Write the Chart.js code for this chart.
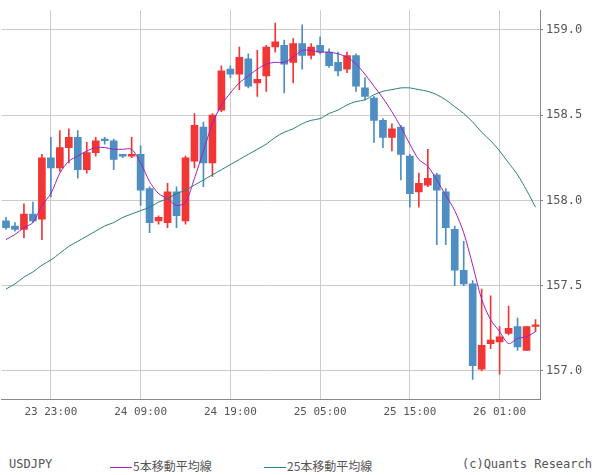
<!DOCTYPE html>
<html>
<head>
<meta charset="utf-8">
<script src="https://cdn.jsdelivr.net/npm/chart.js@4"></script>
<style>
body { margin: 0; background: #fff; font-family: "DejaVu Sans Mono", monospace; }
#wrap { position: relative; width: 600px; height: 475px; }
#box { position: absolute; left: 0; top: 0; width: 600px; height: 425px; }
.foot { position: absolute; top: 457px; font-size: 12px; color: #555; white-space: nowrap; }
.foot i { display: inline-block; width: 22px; height: 1px; vertical-align: middle; margin-right: 1px; }
</style>
</head>
<body>
<div id="wrap">
  <div id="box"><canvas id="chart" width="600" height="425"></canvas></div>
  <div class="foot" style="left:9px">USDJPY</div>
  <div class="foot" style="left:110px"><i style="background:#a020c0"></i><span style="font-family:'Noto Sans CJK JP'">5本移動平均線</span></div>
  <div class="foot" style="left:264px"><i style="background:#2a7f7a"></i><span style="font-family:'Noto Sans CJK JP'">25本移動平均線</span></div>
  <div class="foot" style="right:8px">(c)Quants Research</div>
</div>
<script>
// hourly candles, 23 18:00 -> 26 05:00
const startDay = 23, startHour = 18, count = 60;
const labels = [];
for (let i = 0; i < count; i++) {
    const h = startHour + i;
    const d = startDay + Math.floor(h / 24);
    labels.push(d + ' ' + String(h % 24).padStart(2, '0') + ':00');
}

const opens  = [157.88,157.85,157.83,157.92,157.89,158.25,158.19,158.31,158.37,158.18,
                158.28,158.36,158.35,158.27,158.26,158.27,158.07,157.88,157.87,158.05,
                157.88,158.23,158.43,158.22,158.53,158.77,158.74,158.83,158.69,158.73,
                158.90,158.91,158.81,158.92,158.85,158.91,158.87,158.81,158.77,158.85,
                158.66,158.60,158.47,158.37,158.43,158.26,158.05,158.09,158.15,158.05,
                157.83,157.59,157.51,157.01,157.16,157.17,157.22,157.26,157.12,157.26];
const closes = [157.84,157.83,157.92,157.88,158.25,158.19,158.31,158.37,158.18,158.28,
                158.35,158.35,158.24,158.26,158.27,158.06,157.87,157.90,158.05,157.91,
                158.25,158.44,158.22,158.50,158.76,158.74,158.84,158.67,158.71,158.90,
                158.93,158.80,158.92,158.85,158.90,158.87,158.79,158.76,158.85,158.67,
                158.61,158.47,158.37,158.42,158.27,158.04,158.10,158.13,158.06,157.84,
                157.59,157.51,157.03,157.15,157.18,157.20,157.25,157.14,157.26,157.27];
const highs  = [157.90,157.87,157.98,157.99,158.27,158.37,158.41,158.42,158.41,158.34,
                158.37,158.37,158.36,158.27,158.37,158.32,158.08,157.91,158.10,158.08,
                158.26,158.51,158.46,158.51,158.79,158.79,158.90,158.86,158.88,158.91,
                159.04,158.94,158.95,159.03,158.92,158.96,158.89,158.87,158.87,158.86,
                158.72,158.61,158.48,158.45,158.44,158.27,158.16,158.30,158.16,158.07,
                157.85,157.76,157.53,157.48,157.44,157.26,157.38,157.31,157.26,157.30];
const lows   = [157.83,157.82,157.78,157.87,157.77,158.02,158.17,158.22,158.13,158.16,
                158.26,158.33,158.18,158.25,158.25,157.97,157.81,157.86,157.84,157.84,
                157.86,158.19,158.08,158.14,158.52,158.72,158.65,158.66,158.61,158.64,
                158.87,158.63,158.69,158.77,158.83,158.86,158.78,158.73,158.75,158.64,
                158.59,158.34,158.31,158.29,158.12,157.96,157.96,158.08,157.74,157.74,
                157.50,157.50,156.95,157.00,157.13,156.98,157.21,157.12,157.12,157.23];

const ma5  = [157.77,157.80,157.84,157.87,157.97,158.04,158.16,158.23,158.26,158.29,
              158.31,158.31,158.30,158.30,158.30,158.22,158.11,158.04,158.01,157.97,
              157.99,158.13,158.29,158.45,158.56,158.63,158.69,158.73,158.77,158.80,
              158.81,158.81,158.84,158.88,158.88,158.87,158.87,158.86,158.84,158.80,
              158.74,158.67,158.60,158.52,158.43,158.33,158.24,158.20,158.12,158.03,
              157.94,157.81,157.62,157.42,157.30,157.23,157.16,157.19,157.20,157.23];
const ma25 = [157.48,157.51,157.55,157.58,157.62,157.65,157.69,157.73,157.76,157.79,
              157.82,157.85,157.87,157.90,157.92,157.94,157.96,157.99,158.01,158.04,
              158.06,158.09,158.12,158.15,158.18,158.21,158.24,158.27,158.30,158.33,
              158.37,158.40,158.42,158.45,158.47,158.48,158.51,158.53,158.56,158.58,
              158.59,158.62,158.64,158.65,158.66,158.66,158.65,158.64,158.62,158.59,
              158.55,158.51,158.46,158.40,158.35,158.29,158.22,158.15,158.06,157.96];

const yTicks = [157.0, 157.5, 158.0, 158.5, 159.0];

const UP = '#f23636', DOWN = '#4e8ec2';
const colors = opens.map((o, i) => closes[i] >= o ? UP : DOWN);

new Chart(document.getElementById('chart'), {
    type: 'bar',
    data: {
        labels: labels,
        datasets: [
            { type: 'line', data: ma5, borderColor: '#a020c0', borderWidth: 1, pointRadius: 0, tension: 0.3, order: 0 },
            { type: 'line', data: ma25, borderColor: '#2a7f7a', borderWidth: 1, pointRadius: 0, tension: 0.3, order: 0 },
            { data: opens.map((o, i) => [o, closes[i]]), backgroundColor: colors, barThickness: 7, grouped: false, order: 1, minBarLength: 1 },
            { data: lows.map((l, i) => [l, highs[i]]), backgroundColor: colors, barThickness: 1, grouped: false, order: 2 }
        ]
    },
    options: {
        animation: false,
        responsive: false,
        layout: { padding: 0 },
        plugins: { legend: { display: false }, tooltip: { enabled: false } },
        scales: {
            x: {
                offset: true,
                grid: {
                    offset: false,
                    color: c => c.index % 10 === 5 ? '#cccccc' : 'transparent',
                    drawTicks: false
                },
                border: { color: '#888', width: 1 },
                ticks: {
                    autoSkip: false, maxRotation: 0, padding: 6,
                    color: '#555', font: { family: 'DejaVu Sans Mono', size: 11 },
                    callback: (v, i) => i % 10 === 5 ? labels[i] : ''
                }
            },
            y: {
                position: 'right',
                min: 156.83, max: 159.116,
                afterFit: s => { s.width = 60; },
                afterBuildTicks: s => { s.ticks = yTicks.map(v => ({ value: v })); },
                grid: { color: '#cccccc', drawTicks: true, tickLength: 3, tickColor: '#888' },
                border: { color: '#888', width: 1 },
                ticks: {
                    padding: 3, color: '#555', font: { family: 'DejaVu Sans Mono', size: 12 },
                    callback: v => v.toFixed(1)
                }
            }
        }
    }
});
</script>
</body>
</html>
